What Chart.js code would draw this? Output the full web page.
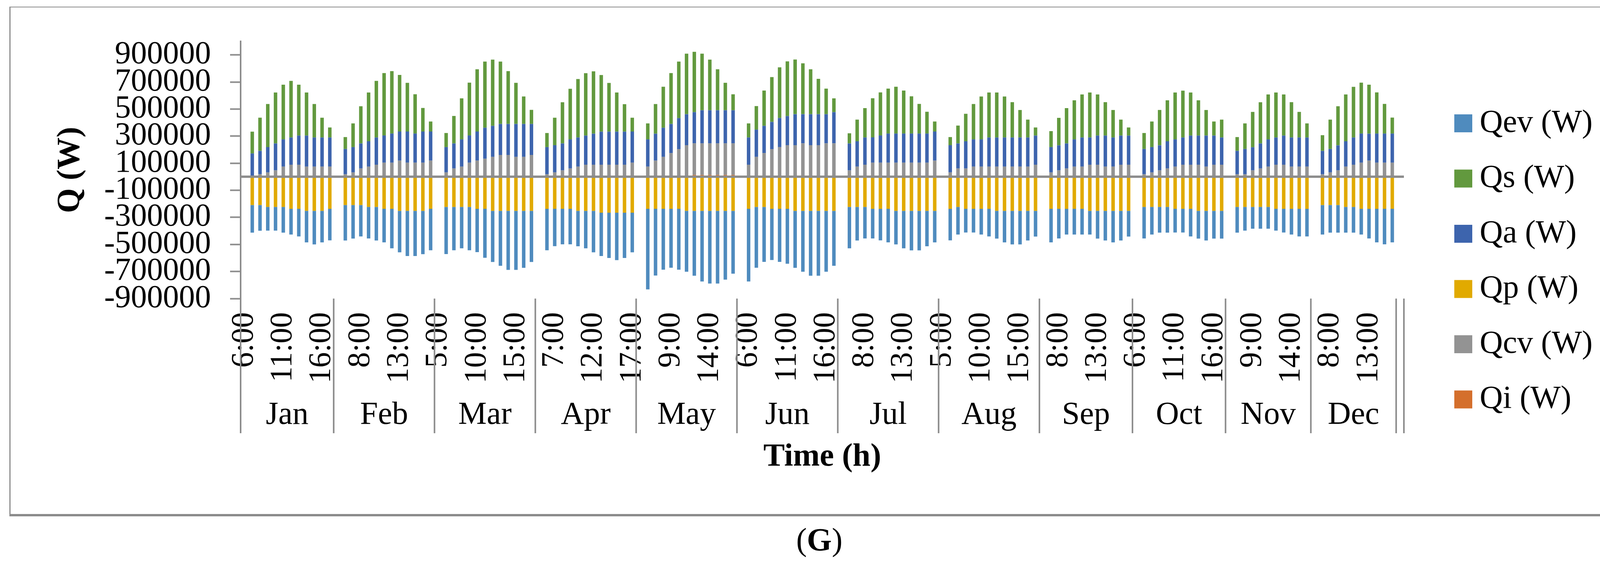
<!DOCTYPE html>
<html>
<head>
<meta charset="utf-8">
<title>Q (W) by hour and month</title>
<script src="https://cdn.jsdelivr.net/npm/chart.js@4.4.1/dist/chart.umd.min.js"></script>
<style>
  html, body { margin: 0; padding: 0; background: #fff; }
  #page { position: relative; width: 4195px; height: 1440px; overflow: hidden; }
  #frame {
    position: absolute; left: 24px; top: 17px; width: 4145px; height: 1306px;
    box-sizing: border-box; border-style: solid; border-color: #8c8c8c;
    border-width: 2px 5px 6px 3px;
  }
  #chart { position: absolute; left: 0; top: 0; }
  #caption {
    position: absolute; left: 0; top: 1342px; width: 4195px; text-align: center;
    font: 82px/1 "Liberation Serif", "Times New Roman", serif; color: #000;
  }
</style>
</head>
<body>
<div id="page">
  <div id="frame"></div>
  <canvas id="chart" width="4195" height="1440"></canvas>
  <div id="caption">(<b>G</b>)</div>
</div>
<script>
const months = ['Jan', 'Feb', 'Mar', 'Apr', 'May', 'Jun', 'Jul', 'Aug', 'Sep', 'Oct', 'Nov', 'Dec'];

// hours on the time axis, one list per month
const monthHours = [
    ['6:00', '7:00', '8:00', '9:00', '10:00', '11:00', '12:00', '13:00', '14:00', '15:00', '16:00', '17:00'],
    ['5:00', '6:00', '7:00', '8:00', '9:00', '10:00', '11:00', '12:00', '13:00', '14:00', '15:00', '16:00', '17:00'],
    ['5:00', '6:00', '7:00', '8:00', '9:00', '10:00', '11:00', '12:00', '13:00', '14:00', '15:00', '16:00', '17:00'],
    ['5:00', '6:00', '7:00', '8:00', '9:00', '10:00', '11:00', '12:00', '13:00', '14:00', '15:00', '16:00', '17:00'],
    ['5:00', '6:00', '7:00', '8:00', '9:00', '10:00', '11:00', '12:00', '13:00', '14:00', '15:00', '16:00', '17:00'],
    ['5:00', '6:00', '7:00', '8:00', '9:00', '10:00', '11:00', '12:00', '13:00', '14:00', '15:00', '16:00', '17:00'],
    ['5:00', '6:00', '7:00', '8:00', '9:00', '10:00', '11:00', '12:00', '13:00', '14:00', '15:00', '16:00', '17:00'],
    ['5:00', '6:00', '7:00', '8:00', '9:00', '10:00', '11:00', '12:00', '13:00', '14:00', '15:00', '16:00', '17:00'],
    ['6:00', '7:00', '8:00', '9:00', '10:00', '11:00', '12:00', '13:00', '14:00', '15:00', '16:00', '17:00'],
    ['6:00', '7:00', '8:00', '9:00', '10:00', '11:00', '12:00', '13:00', '14:00', '15:00', '16:00', '17:00'],
    ['6:00', '7:00', '8:00', '9:00', '10:00', '11:00', '12:00', '13:00', '14:00', '15:00', '16:00'],
    ['6:00', '7:00', '8:00', '9:00', '10:00', '11:00', '12:00', '13:00', '14:00', '15:00', '16:00']
];

const yTicks = [-900000, -700000, -500000, -300000, -100000, 100000, 300000, 500000, 700000, 900000];

// values in W, one line per month, the last entry is the empty row after Dec
const qev = [
    0, -204000, -190000, -175000, -175000, -190000, -190000, -204000, -233000, -248000, -233000, -233000,
    0, -262000, -248000, -232000, -233000, -248000, -248000, -292000, -306000, -334000, -334000, -320000, -306000,
    0, -348000, -320000, -306000, -320000, -320000, -362000, -378000, -406000, -436000, -436000, -421000, -378000,
    0, -306000, -276000, -262000, -262000, -262000, -277000, -306000, -320000, -334000, -350000, -334000, -292000,
    0, -595000, -493000, -450000, -435000, -450000, -450000, -479000, -522000, -537000, -537000, -508000, -464000,
    0, -537000, -449000, -406000, -378000, -392000, -406000, -421000, -450000, -479000, -479000, -450000, -406000,
    0, -306000, -248000, -233000, -219000, -233000, -248000, -248000, -277000, -292000, -292000, -262000, -233000,
    0, -233000, -204000, -175000, -175000, -190000, -204000, -205000, -233000, -248000, -248000, -219000, -190000,
    0, -248000, -219000, -190000, -190000, -190000, -175000, -205000, -219000, -233000, -219000, -190000,
    0, -233000, -204000, -190000, -190000, -175000, -175000, -204000, -205000, -219000, -205000, -205000,
    0, -190000, -175000, -161000, -161000, -161000, -161000, -175000, -190000, -204000, -204000,
    0, -218000, -204000, -204000, -190000, -190000, -190000, -219000, -248000, -262000, -248000,
    null
];

const qs = [
    0, 161000, 245000, 318000, 376000, 404000, 418000, 376000, 318000, 247000, 146000, 74000,
    0, 88000, 175000, 275000, 360000, 418000, 461000, 461000, 418000, 360000, 290000, 174000, 74000,
    0, 104000, 203000, 303000, 390000, 460000, 489000, 489000, 461000, 390000, 304000, 203000, 104000,
    0, 104000, 203000, 304000, 374000, 432000, 461000, 461000, 418000, 360000, 289000, 203000, 102000,
    0, 118000, 219000, 303000, 376000, 418000, 447000, 446000, 418000, 374000, 303000, 203000, 118000,
    0, 104000, 174000, 261000, 331000, 374000, 404000, 404000, 376000, 332000, 261000, 189000, 102000,
    0, 75000, 160000, 217000, 289000, 318000, 332000, 346000, 318000, 275000, 219000, 161000, 74000,
    0, 60000, 132000, 203000, 261000, 317000, 332000, 332000, 303000, 261000, 203000, 132000, 60000,
    0, 118000, 203000, 261000, 289000, 318000, 332000, 304000, 247000, 203000, 118000, 60000,
    0, 118000, 189000, 261000, 303000, 346000, 346000, 318000, 261000, 189000, 104000, 132000,
    0, 102000, 189000, 261000, 304000, 332000, 332000, 304000, 261000, 189000, 104000,
    0, 116000, 217000, 289000, 346000, 374000, 376000, 362000, 304000, 219000, 118000,
    null
];

const qa = [
    0, 169000, 173000, 187000, 199000, 201000, 201000, 215000, 229000, 215000, 215000, 215000,
    0, 187000, 187000, 185000, 187000, 201000, 201000, 215000, 215000, 230000, 215000, 230000, 215000,
    0, 187000, 185000, 201000, 201000, 215000, 229000, 229000, 229000, 229000, 243000, 243000, 229000,
    0, 201000, 201000, 199000, 215000, 215000, 215000, 229000, 244000, 244000, 244000, 244000, 230000,
    0, 201000, 199000, 215000, 215000, 229000, 229000, 230000, 244000, 244000, 244000, 244000, 244000,
    0, 201000, 201000, 201000, 201000, 215000, 215000, 229000, 215000, 229000, 229000, 215000, 230000,
    0, 199000, 187000, 201000, 187000, 201000, 215000, 215000, 215000, 215000, 215000, 215000, 215000,
    0, 201000, 185000, 201000, 201000, 201000, 215000, 215000, 215000, 215000, 215000, 215000, 215000,
    0, 187000, 185000, 185000, 201000, 215000, 201000, 215000, 229000, 215000, 215000, 215000,
    0, 187000, 187000, 185000, 201000, 201000, 201000, 215000, 215000, 229000, 215000, 201000,
    0, 173000, 187000, 171000, 185000, 201000, 201000, 215000, 215000, 215000, 215000,
    0, 173000, 173000, 185000, 187000, 201000, 215000, 199000, 215000, 215000, 215000,
    null
];

const qp = [
    0, -209000, -209000, -223000, -223000, -223000, -237000, -237000, -252000, -252000, -252000, -237000,
    0, -209000, -209000, -209000, -223000, -223000, -237000, -237000, -252000, -252000, -252000, -252000, -237000,
    0, -223000, -223000, -223000, -223000, -237000, -237000, -252000, -252000, -252000, -252000, -252000, -252000,
    0, -237000, -237000, -237000, -237000, -252000, -252000, -252000, -266000, -266000, -266000, -266000, -266000,
    0, -237000, -237000, -237000, -237000, -237000, -252000, -252000, -252000, -252000, -252000, -252000, -252000,
    0, -237000, -223000, -223000, -237000, -237000, -237000, -252000, -252000, -252000, -252000, -252000, -252000,
    0, -223000, -223000, -223000, -237000, -237000, -237000, -252000, -252000, -252000, -252000, -252000, -252000,
    0, -237000, -223000, -237000, -237000, -237000, -237000, -252000, -252000, -252000, -252000, -252000, -252000,
    0, -237000, -237000, -237000, -237000, -237000, -252000, -252000, -252000, -252000, -252000, -252000,
    0, -223000, -223000, -223000, -223000, -237000, -237000, -237000, -252000, -252000, -252000, -252000,
    0, -223000, -223000, -223000, -223000, -223000, -237000, -237000, -237000, -237000, -237000,
    0, -209000, -209000, -209000, -223000, -223000, -237000, -237000, -237000, -237000, -237000,
    null
];

const qcv = [
    0, 3000, 18000, 32000, 47000, 75000, 89000, 89000, 75000, 75000, 75000, 75000,
    0, 18000, 32000, 61000, 75000, 89000, 104000, 104000, 119000, 104000, 104000, 104000, 119000,
    0, 32000, 61000, 75000, 104000, 119000, 133000, 147000, 161000, 161000, 147000, 147000, 161000,
    0, 18000, 32000, 47000, 61000, 75000, 89000, 89000, 89000, 89000, 89000, 89000, 104000,
    0, 75000, 119000, 147000, 175000, 204000, 233000, 234000, 234000, 234000, 234000, 234000, 234000,
    0, 89000, 147000, 175000, 204000, 219000, 233000, 233000, 247000, 233000, 233000, 247000, 247000,
    0, 47000, 75000, 89000, 104000, 104000, 104000, 104000, 104000, 104000, 104000, 104000, 119000,
    0, 32000, 61000, 61000, 75000, 75000, 75000, 75000, 75000, 75000, 75000, 75000, 89000,
    0, 32000, 47000, 61000, 75000, 75000, 89000, 89000, 75000, 75000, 89000, 89000,
    0, 18000, 32000, 47000, 61000, 75000, 89000, 89000, 89000, 75000, 89000, 89000,
    0, 18000, 18000, 47000, 61000, 75000, 89000, 89000, 75000, 75000, 75000,
    0, 18000, 32000, 47000, 75000, 89000, 104000, 119000, 104000, 104000, 104000,
    null
];

const qi = [
    0, 0, 0, 0, 0, 0, 0, 0, 0, 0, 0, 0,
    0, 0, 0, 0, 0, 0, 0, 0, 0, 0, 0, 0, 0,
    0, 0, 0, 0, 0, 0, 0, 0, 0, 0, 0, 0, 0,
    0, 0, 0, 0, 0, 0, 0, 0, 0, 0, 0, 0, 0,
    0, 0, 0, 0, 0, 0, 0, 13000, 13000, 13000, 13000, 13000, 13000,
    0, 0, 0, 0, 0, 0, 0, 0, 0, 0, 0, 0, 0,
    0, 0, 0, 0, 0, 0, 0, 0, 0, 0, 0, 0, 0,
    0, 0, 0, 0, 0, 0, 0, 0, 0, 0, 0, 0, 0,
    0, 0, 0, 0, 0, 0, 0, 0, 0, 0, 0, 0,
    0, 0, 0, 0, 0, 0, 0, 0, 0, 0, 0, 0,
    0, 0, 0, 0, 0, 0, 0, 0, 0, 0, 0,
    0, 0, 0, 0, 0, 0, 0, 0, 0, 0, 0,
    null
];

const font = '"Liberation Serif", "Times New Roman", serif';
const axisGrey = '#8c8c8c';
const colors = {
    qev: '#4f8bbe', qs: '#62993e', qa: '#3d64ad', qp: '#e1aa00', qcv: '#939393', qi: '#d46f2c'
};

// one hour label per category, plus the blank row Excel kept after Dec
const hourLabels = monthHours.flat().concat(['']);

// datasets in stacking order (closest to zero first); legend order kept apart
const datasets = [
    { key: 'qi', label: 'Qi (W)', data: qi },
    { key: 'qcv', label: 'Qcv (W)', data: qcv },
    { key: 'qa', label: 'Qa (W)', data: qa },
    { key: 'qs', label: 'Qs (W)', data: qs },
    { key: 'qp', label: 'Qp (W)', data: qp },
    { key: 'qev', label: 'Qev (W)', data: qev }
].map((d) => ({
    label: d.label,
    data: d.data,
    backgroundColor: colors[d.key],
    borderWidth: 0,
    barPercentage: 0.45,
    categoryPercentage: 1
}));

const legendOrder = ['Qev (W)', 'Qs (W)', 'Qa (W)', 'Qp (W)', 'Qcv (W)', 'Qi (W)'];

const zeroLine = {
    id: 'zeroLine',
    afterDatasetsDraw(chart) {
        const { ctx, chartArea, scales: { y } } = chart;
        const py = y.getPixelForValue(0);

        ctx.save();
        ctx.strokeStyle = axisGrey;
        ctx.lineWidth = 6;
        ctx.beginPath();
        ctx.moveTo(chartArea.left, py);
        ctx.lineTo(chartArea.right, py);
        ctx.stroke();
        ctx.restore();
    }
};

// second level of the category axis: month names between separators
const monthAxis = {
    id: 'monthAxis',
    afterDraw(chart) {
        const { ctx, chartArea, scales: { x } } = chart;
        const half = (x.getPixelForValue(1) - x.getPixelForValue(0)) / 2;
        const edges = [x.getPixelForValue(0) - half];
        let start = 0;

        ctx.save();
        ctx.fillStyle = '#000';
        ctx.font = `82px ${font}`;
        ctx.textAlign = 'center';
        ctx.textBaseline = 'alphabetic';

        monthHours.forEach((hours, m) => {
            const end = start + hours.length;
            const left = x.getPixelForValue(start) - half;
            const right = x.getPixelForValue(end - 1) + half;

            edges.push(right);
            ctx.fillText(months[m], (left + right) / 2, 1086);
            start = end;
        });
        edges.push(x.getPixelForValue(start) + half);

        ctx.strokeStyle = axisGrey;
        ctx.lineWidth = 4;
        edges.forEach((px) => {
            ctx.beginPath();
            ctx.moveTo(px, chartArea.bottom);
            ctx.lineTo(px, 1110);
            ctx.stroke();
        });
        ctx.restore();
    }
};

const sideLegend = {
    id: 'sideLegend',
    afterDraw(chart) {
        const { ctx } = chart;
        const byLabel = {};
        chart.data.datasets.forEach((ds) => { byLabel[ds.label] = ds; });

        ctx.save();
        ctx.font = `82px ${font}`;
        ctx.textAlign = 'left';
        ctx.textBaseline = 'middle';
        legendOrder.forEach((label, i) => {
            const cy = 316 + i * 141.5;
            ctx.fillStyle = byLabel[label].backgroundColor;
            ctx.fillRect(3723, cy - 23, 46, 46);
            ctx.fillStyle = '#000';
            ctx.fillText(label, 3788, cy);
        });
        ctx.restore();
    }
};

new Chart(document.getElementById('chart'), {
    type: 'bar',
    data: { labels: hourLabels, datasets },
    options: {
        responsive: false,
        animation: false,
        devicePixelRatio: 1,
        layout: { padding: { top: 106, right: 601, bottom: 140, left: 0 } },
        plugins: {
            legend: { display: false },
            tooltip: { enabled: false }
        },
        scales: {
            x: {
                stacked: true,
                afterFit: (axis) => { axis.height = 535; },
                grid: { display: false },
                border: { display: false },
                ticks: {
                    autoSkip: false,
                    minRotation: 90,
                    maxRotation: 90,
                    padding: 27,
                    color: '#000',
                    font: { family: font, size: 80 },
                    callback: (value, index) => (index % 5 === 0 ? hourLabels[index] : '')
                },
                title: {
                    display: true,
                    text: 'Time (h)',
                    color: '#000',
                    font: { family: font, size: 82, weight: 'bold' },
                    padding: { top: 0, bottom: 79 }
                }
            },
            y: {
                stacked: true,
                min: -900000,
                max: 1000000,
                afterBuildTicks: (axis) => { axis.ticks = yTicks.map((value) => ({ value })); },
                afterFit: (axis) => { axis.width = 616; },
                border: { display: true, color: axisGrey, width: 4 },
                grid: {
                    drawOnChartArea: false,
                    drawTicks: true,
                    tickLength: 27,
                    tickWidth: 4,
                    tickColor: axisGrey
                },
                ticks: {
                    autoSkip: false,
                    padding: 49,
                    color: '#000',
                    font: { family: font, size: 82 },
                    callback: (value) => String(value)
                },
                title: {
                    display: true,
                    text: 'Q (W)',
                    color: '#000',
                    font: { family: font, size: 82, weight: 'bold' },
                    padding: { top: 132, bottom: 0 }
                }
            }
        }
    },
    plugins: [zeroLine, monthAxis, sideLegend]
});
</script>
</body>
</html>
